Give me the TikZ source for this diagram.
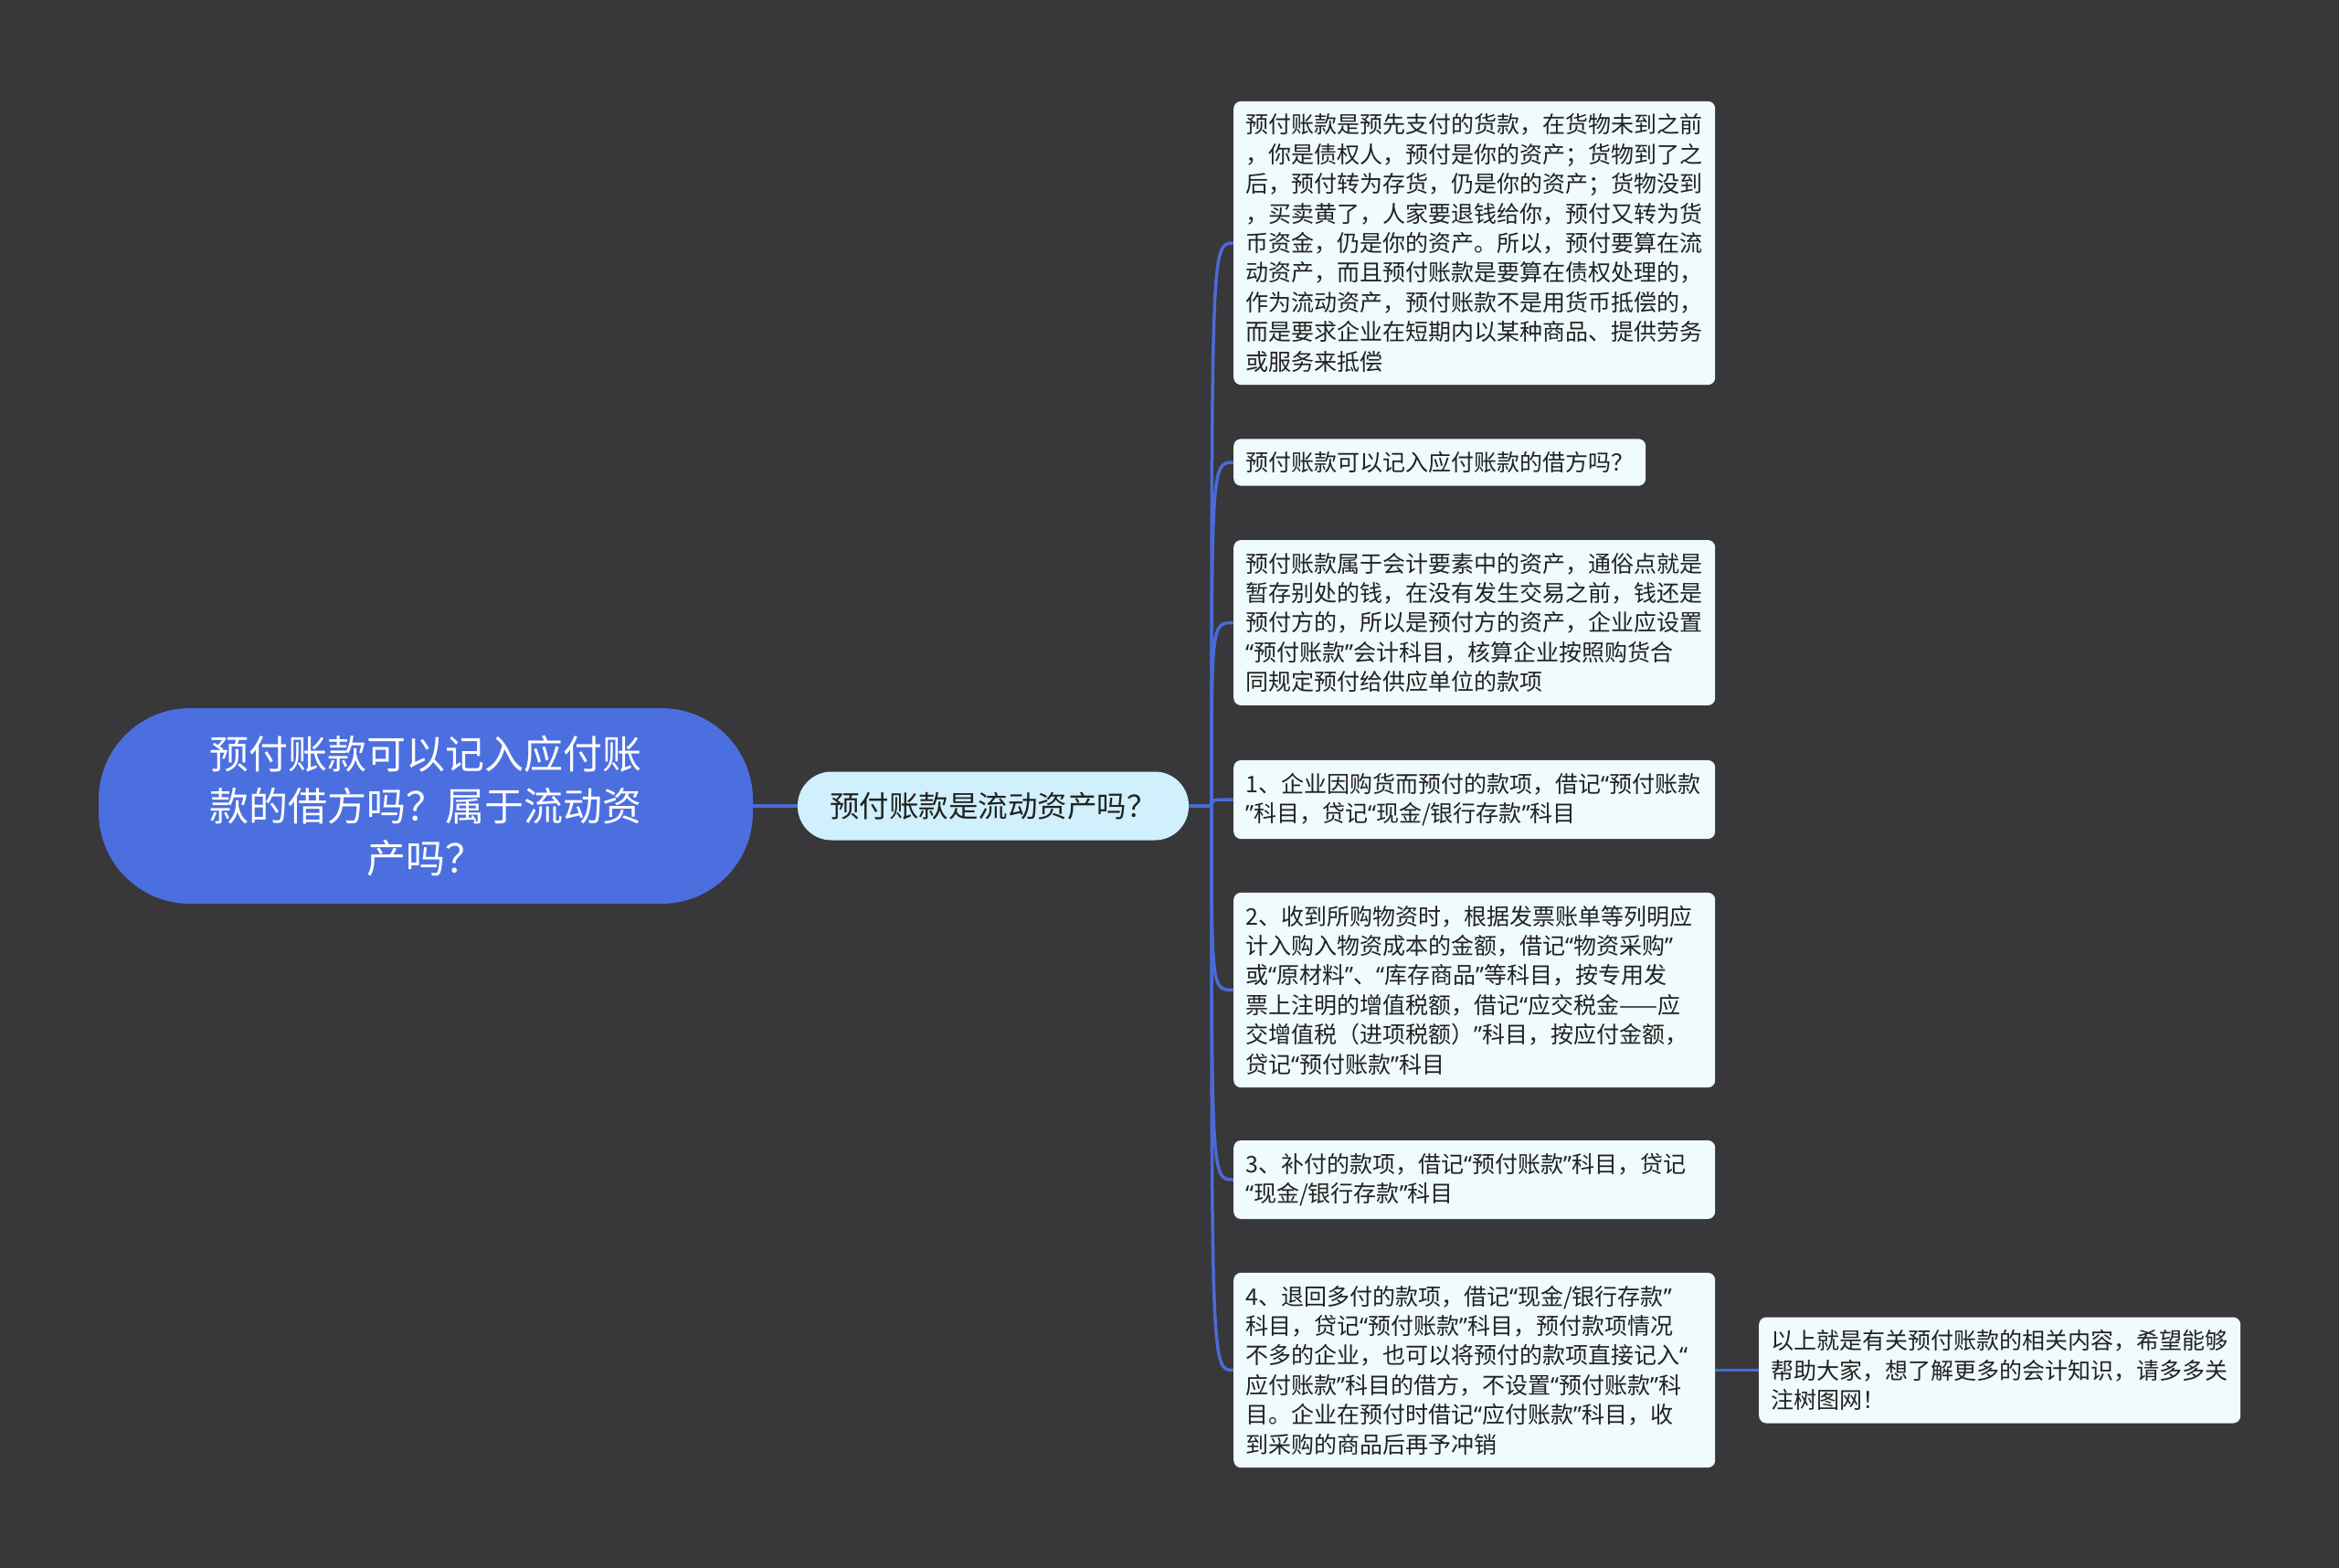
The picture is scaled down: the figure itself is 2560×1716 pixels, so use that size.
\documentclass[tikz,border=0pt]{standalone}
\usepackage{fontspec}
\setmainfont{Noto Sans CJK SC}
\newfontfamily\latinq{Noto Sans}
\newcommand\myqo{{\latinq “}}
\newcommand\myqc{{\latinq ”}}
\definecolor{bgc}{HTML}{38373A}
\definecolor{rootc}{HTML}{4C6FDF}
\definecolor{subc}{HTML}{CFF0FC}
\definecolor{leafc}{HTML}{EFFBFD}
\definecolor{linec}{HTML}{4A6BD6}
\definecolor{textc}{HTML}{222222}
\begin{document}
\begin{tikzpicture}[x=1pt,y=-1pt,
  rootnode/.style={fill=rootc, rounded corners=100pt, minimum width=716pt, minimum height=214pt,
    text=white, align=center, font=\fontsize{43}{57}\selectfont, inner sep=0pt},
  subnode/.style={fill=subc, rounded corners=37pt, minimum width=428pt, minimum height=75pt,
    text=textc, font=\fontsize{32.5}{40}\selectfont, inner sep=0pt},
  leafnode/.style={fill=leafc, rounded corners=8pt, text width=501pt, align=left,
    inner xsep=13pt, inner ysep=14pt, font=\fontsize{25}{32.4}\selectfont, text=textc, anchor=west},
  leafnat/.style={fill=leafc, rounded corners=8pt, inner xsep=13pt, inner ysep=14pt,
    font=\fontsize{25}{32.4}\selectfont, text=textc, anchor=west},
  conn/.style={draw=linec, line width=3.5pt}
]
\fill[bgc] (0,0) rectangle (2560,1716);
\useasboundingbox (0,0) rectangle (2560,1716);

\node[rootnode] (root) at (466,882) {预付账款可以记入应付账\\款的借方吗？属于流动资\\产吗？};
\node[subnode] (sub) at (1087,882) {预付账款是流动资产吗？};

\node[leafnode] (l1) at (1350,266) {预付账款是预先支付的货款，在货物未到之前\\
，你是债权人，预付是你的资产；货物到了之\\
后，预付转为存货，仍是你的资产；货物没到\\
，买卖黄了，人家要退钱给你，预付又转为货\\
币资金，仍是你的资产。所以，预付要算在流\\
动资产，而且预付账款是要算在债权处理的，\\
作为流动资产，预付账款不是用货币抵偿的，\\
而是要求企业在短期内以某种商品、提供劳务\\
或服务来抵偿};
\node[leafnat] (l2) at (1350,506) {预付账款可以记入应付账款的借方吗？};
\node[leafnode] (l3) at (1350,681.5) {预付账款属于会计要素中的资产，通俗点就是\\
暂存别处的钱，在没有发生交易之前，钱还是\\
预付方的，所以是预付方的资产，企业应设置\\
\myqo 预付账款\myqc 会计科目，核算企业按照购货合\\
同规定预付给供应单位的款项};
\node[leafnode] (l4) at (1350,875) {1、企业因购货而预付的款项，借记\myqo 预付账款\\
\myqc 科目，贷记\myqo 现金/银行存款\myqc 科目};
\node[leafnode] (l5) at (1350,1083.5) {2、收到所购物资时，根据发票账单等列明应\\
计入购入物资成本的金额，借记\myqo 物资采购\myqc\\
或\myqo 原材料\myqc 、\myqo 库存商品\myqc 等科目，按专用发\\
票上注明的增值税额，借记\myqo 应交税金——应\\
交增值税（进项税额）\myqc 科目，按应付金额，\\
贷记\myqo 预付账款\myqc 科目};
\node[leafnode] (l6) at (1350,1291) {3、补付的款项，借记\myqo 预付账款\myqc 科目，贷记\\
\myqo 现金/银行存款\myqc 科目};
\node[leafnode] (l7) at (1350,1499.5) {4、退回多付的款项，借记\myqo 现金/银行存款\myqc\\
科目，贷记\myqo 预付账款\myqc 科目，预付款项情况\\
不多的企业，也可以将预付的款项直接记入\myqo\\
应付账款\myqc 科目的借方，不设置\myqo 预付账款\myqc 科\\
目。企业在预付时借记\myqo 应付账款\myqc 科目，收\\
到采购的商品后再予冲销};
\node[leafnode] (l8) at (1925,1499.5) {以上就是有关预付账款的相关内容，希望能够\\
帮助大家，想了解更多的会计知识，请多多关\\
注树图网！};

\coordinate (fork) at (1326,882);
\draw[conn] (root.east) -- (sub.west);
\draw[conn] (sub.east) -- (fork);
\foreach \n in {l1,l2,l3,l4,l5,l6,l7}{
  \draw[conn] (fork) .. controls (fork |- \n.west) .. (\n.west);
}
\draw[conn] (l7.east) -- (l8.west);
\end{tikzpicture}
\end{document}
